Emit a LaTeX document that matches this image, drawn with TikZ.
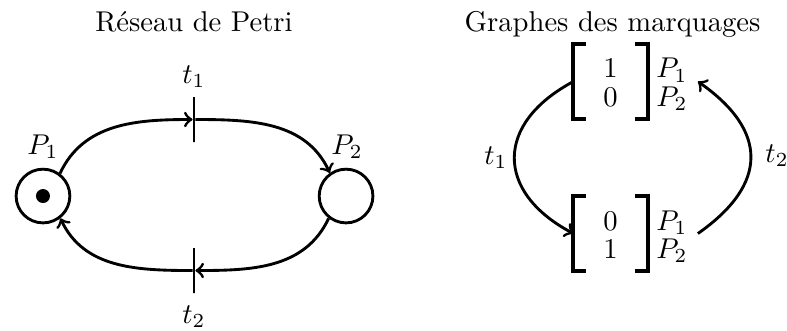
\documentclass[tikz,border=0pt]{standalone}
\usepackage{amsmath, amssymb}
\usepackage{tikz}
\usetikzlibrary{positioning}
\tikzset{
  place/.style={draw, circle, line width=1pt, minimum size=0.66cm, inner sep=0pt},
  transition/.style={draw, line width=1pt, minimum width=0pt, minimum height=0.553cm, inner sep=0pt},
  arcflow/.style={->, line width=1pt},
  marking/.style={inner sep=0pt, minimum width=0.897cm, minimum height=0.897cm, text height=0.598cm, text depth=0.299cm},
  names/.style={inner sep=0pt, text height=0.598cm, text depth=0.299cm},
  bracket/.style={line width=1.4pt},
  title/.style={anchor=base}
}
\newcommand{\twoRows}[3]{{\renewcommand{\arraystretch}{0.83}$\begin{array}{@{}#1@{}}#2\\#3\end{array}$}}

\begin{document}
\begin{tikzpicture}
  \useasboundingbox (0,0) rectangle (9.668,-4.054);
  % Petri net
  \node[title] (ttl1) at (2.383,-0.39) {R\'eseau de Petri};
  \node[place] (P1) at (0.528,-2.408) {};
  \node[place] (P2) at (4.251,-2.408) {};
  \fill (P1) circle (0.086);
  \node[transition] (t1) at (2.383,-1.468) {};
  \node[transition] (t2) at (2.383,-3.323) {};
  \node (lP1) at (0.528,-1.806) {$P_1$};
  \node (lP2) at (4.263,-1.806) {$P_2$};
  \node (lt1) at (2.383,-0.946) {$t_1$};
  \node (lt2) at (2.383,-3.894) {$t_2$};
  \draw[arcflow] (P1.53) to[out=65, in=180] (t1);
  \draw[arcflow] (t1) to[out=0, in=115] (P2.125);
  \draw[arcflow] (P2.-128) to[out=-115, in=0] (t2);
  \draw[arcflow] (t2) to[out=180, in=-65] (P1.-52);
  % marking graph
  \node[title] (ttl2) at (7.525,-0.39) {Graphes des marquages};
  \node[marking] (m1) at (7.5,-1.001) {\twoRows{c}{1}{0}};
  \node[marking] (m2) at (7.5,-2.869) {\twoRows{c}{0}{1}};
  \node[names, anchor=west, xshift=0.1cm] (n1) at (m1.east) {\twoRows{l}{P_1}{P_2}};
  \node[names, anchor=west, xshift=0.1cm] (n2) at (m2.east) {\twoRows{l}{P_1}{P_2}};
  \foreach \m in {m1,m2} {
    \draw[bracket] ([xshift=0.16cm]\m.north west) -- (\m.north west) -- (\m.south west) -- ([xshift=0.16cm]\m.south west);
    \draw[bracket] ([xshift=-0.16cm]\m.north east) -- (\m.north east) -- (\m.south east) -- ([xshift=-0.16cm]\m.south east);
  }
  \draw[arcflow] (m1.west) to[out=208, in=152, looseness=1.5] (m2.west);
  \draw[arcflow] ([xshift=0.12cm]n2.east) to[out=35, in=-35, looseness=1.45] ([xshift=0.12cm]n1.east);
  \node (gt1) at (6.093,-1.941) {$t_1$};
  \node (gt2) at (9.545,-1.916) {$t_2$};
\end{tikzpicture}
\end{document}
